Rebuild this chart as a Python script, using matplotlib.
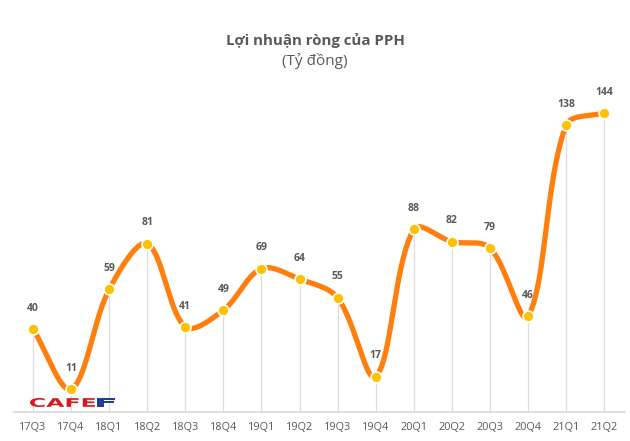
import numpy as np
import matplotlib
matplotlib.use("Agg")
import matplotlib.pyplot as plt
from matplotlib.textpath import TextPath
from matplotlib.patches import PathPatch
from matplotlib.font_manager import FontProperties
from matplotlib.transforms import Affine2D

quarters = ['17Q3', '17Q4', '18Q1', '18Q2', '18Q3', '18Q4', '19Q1', '19Q2',
            '19Q3', '19Q4', '20Q1', '20Q2', '20Q3', '20Q4', '21Q1', '21Q2']
profit = [40, 11, 59, 81, 41, 49, 69, 64, 55, 17, 88, 82, 79, 46, 138, 144]

LINE_COLOR = '#FF7F0E'
MARKER_COLOR = '#FFC000'
TEXT_COLOR = '#595959'


def smooth_curve(xs, ys, sx, sy, steps=40):
    # Excel-like smoothing: Bezier arms scaled by neighbouring segment lengths
    P = np.column_stack([np.asarray(xs, float) * sx, np.asarray(ys, float) * sy])
    n = len(P)
    pts = []
    t = np.linspace(0, 1, steps)[:, None]
    for i in range(n - 1):
        p0, p3 = P[i], P[i + 1]
        prev = P[i - 1] if i > 0 else P[i]
        nxt = P[i + 2] if i + 2 < n else P[i + 1]
        l_prev = np.linalg.norm(p0 - prev)
        l_seg = np.linalg.norm(p3 - p0)
        l_next = np.linalg.norm(nxt - p3)
        if i > 0:
            p1 = p0 + (p3 - prev) * l_seg / (l_prev + l_seg) / 3
        else:
            p1 = p0 + (p3 - p0) / 3
        if i + 2 < n:
            p2 = p3 - (nxt - p0) * l_seg / (l_seg + l_next) / 3
        else:
            p2 = p3 - (p3 - p0) / 3
        b = (1 - t) ** 3 * p0 + 3 * (1 - t) ** 2 * t * p1 + 3 * (1 - t) * t ** 2 * p2 + t ** 3 * p3
        pts.append(b)
    pts = np.vstack(pts)
    return pts[:, 0] / sx, pts[:, 1] / sy


fig = plt.figure(figsize=(6.3, 4.41), dpi=100)
ax = fig.add_axes([14 / 630, (441 - 412) / 441, (625 - 14) / 630, (412 - 90) / 441])

x = np.arange(len(quarters))
ax.vlines(x, 0, profit, color='#DDDDDD', linewidth=0.9, zorder=1)

cx, cy = smooth_curve(x, profit, 38.07, 2.075)
ax.plot(cx, cy, color=LINE_COLOR, linewidth=3.8, solid_capstyle='round', zorder=2)
ax.scatter(x, profit, s=62, color=MARKER_COLOR, edgecolor='white', linewidth=1.2, zorder=3)

for xi, v in zip(x, profit):
    ax.annotate(str(v), (xi, v), xytext=(0, 11), textcoords='offset points',
                ha='center', va='bottom', fontsize=7.5, fontweight='bold',
                color=TEXT_COLOR, family='Open Sans')

ax.set_xlim(-0.5, 15.55)
ax.set_ylim(0, 155)
ax.set_yticks([])
ax.set_xticks(x)
ax.set_xticklabels(quarters, fontsize=7.8, color=TEXT_COLOR, family='Open Sans')
ax.tick_params(axis='x', length=0, pad=7)
for side in ['left', 'right', 'top']:
    ax.spines[side].set_visible(False)
ax.spines['bottom'].set_color('#D9D9D9')
ax.spines['bottom'].set_linewidth(1.2)

fig.text(0.5, 1 - 40 / 441, 'Lợi nhuận ròng của PPH', ha='center', va='center',
         fontsize=10.8, fontweight='bold', color=TEXT_COLOR, family='Open Sans')
fig.text(0.5, 1 - 61 / 441, '(Tỷ đồng)', ha='center', va='center',
         fontsize=11, color=TEXT_COLOR, family='Open Sans')

# CAFEF watermark: text paths stretched to fit boxes (pixel coordinates)
logo_font = FontProperties(family='DejaVu Sans', weight='bold')
for letter, x0, x1, color in [('CAFE', 30, 95, '#D71920'), ('F', 97, 115, '#1F3F8F')]:
    path = TextPath((0, 0), letter, size=12, prop=logo_font)
    ext = path.get_extents()
    sx = (x1 - x0) / ext.width
    sy = 9 / ext.height
    trans = Affine2D().translate(-ext.x0, -ext.y0).scale(sx, sy).translate(x0, 441 - 407)
    fig.patches.append(PathPatch(trans.transform_path(path), facecolor=color,
                                 edgecolor='none', transform=None, figure=fig))

fig.savefig('out.png', dpi=100)
